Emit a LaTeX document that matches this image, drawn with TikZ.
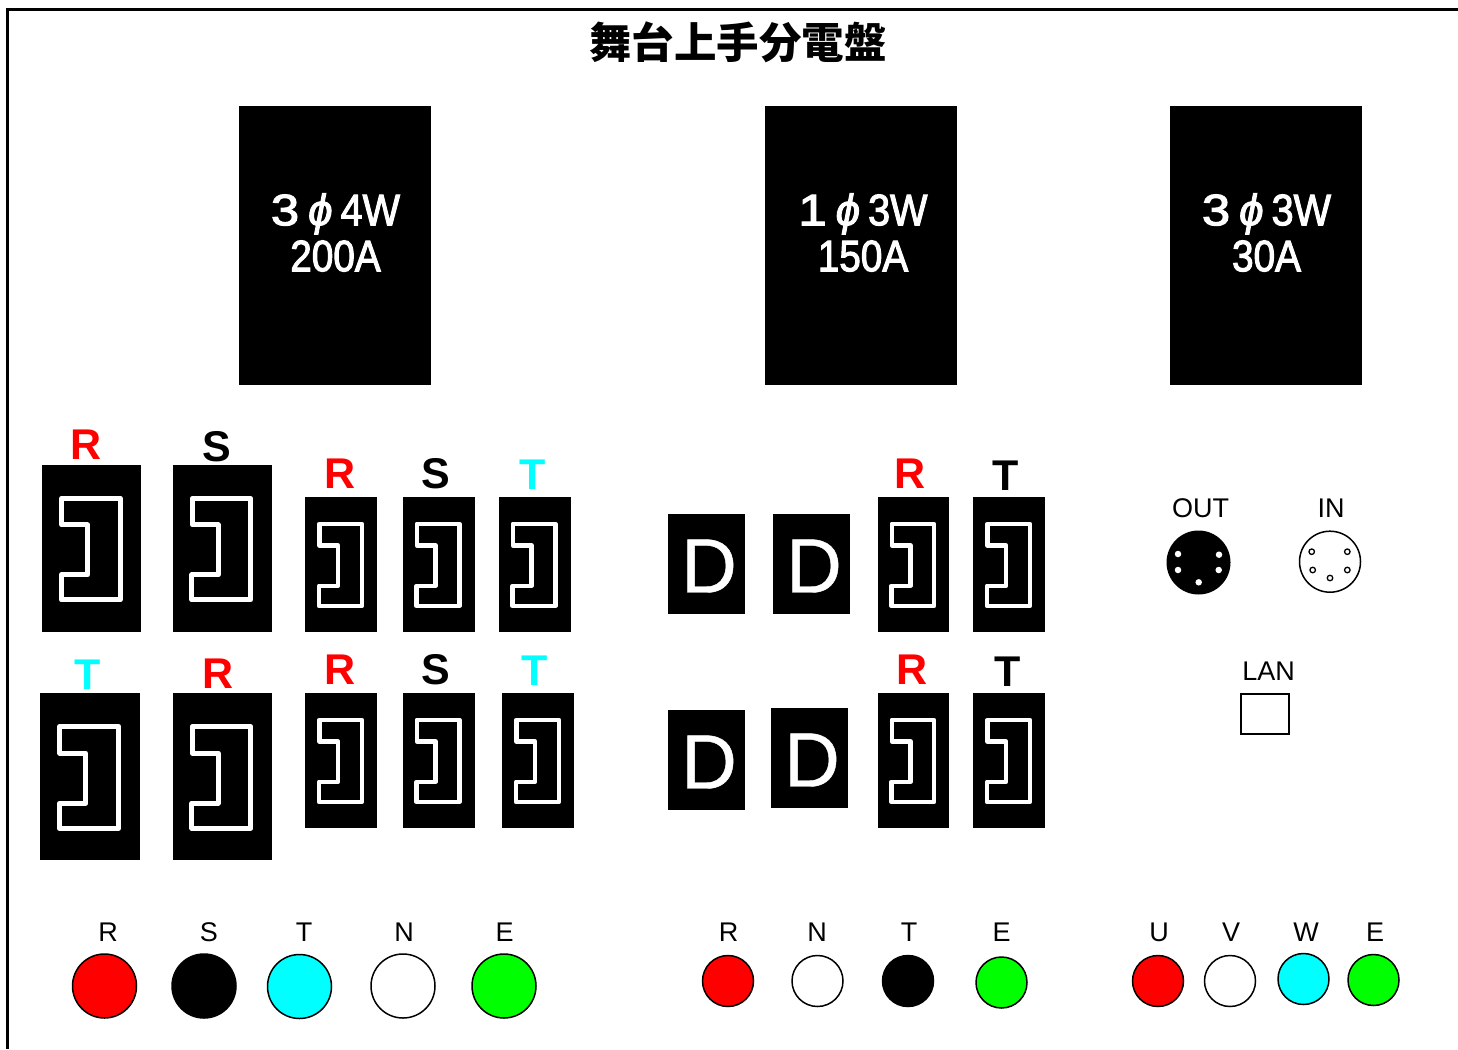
\documentclass[tikz,border=0pt]{standalone}
\usepackage{fontspec}
\setmainfont{Liberation Sans}
\newfontfamily\cjkfont{Noto Sans CJK JP}
\newfontfamily\ratfont{Liberation Sans}[FakeBold=2.5]
\newfontfamily\lightbold{Liberation Sans}[FakeBold=0.6]
\newfontfamily\medital{Liberation Sans Italic}[FakeBold=2]
\newcommand{\fsz}[1]{\fontsize{#1}{#1}\selectfont}
\newcommand{\ratline}[2]{\scalebox{1.15}[1]{#1}\hspace{9pt}{\medital ϕ}\hspace{8pt}\scalebox{.9}[1]{#2}}
\definecolor{cyanx}{RGB}{0,255,255}
\definecolor{greenx}{RGB}{0,255,0}
\definecolor{redx}{RGB}{255,0,0}
\tikzset{
  blockbox/.style={fill=black,inner sep=0pt,outer sep=0pt,draw=none},
  phase/.style={inner sep=0pt,font=\fsz{43}\bfseries},
  small/.style={inner sep=0pt,font=\fsz{27}},
  dletter/.style={inner sep=0pt,text=white,font=\fsz{77}\lightbold},
  rating/.style={inner sep=0pt,text=white,align=center,font=\fsz{44}\ratfont},
  lamp/.style={circle,draw=black,line width=1.5pt,inner sep=0pt,outer sep=0pt},
  pinw/.style={circle,fill=white,inner sep=0pt,minimum size=6.5pt},
  pino/.style={circle,draw=black,fill=white,line width=1.3pt,inner sep=0pt,minimum size=5.5pt},
  glyph/.style={draw=white,line join=round},
}
\newcommand{\blk}[5]{\node[blockbox,minimum width={(#4-#2)*1pt},minimum height={(#5-#3)*1pt}] (#1) at ({(#2+#4)/2},{(#3+#5)/2}) {};}
\newcommand{\outlet}[6]{%
  \blk{#1}{#2}{#3}{#4}{#5}
  \pgfmathsetmacro\gw{#4-#2}\pgfmathsetmacro\gh{#5-#3}
  \draw[glyph,line width=#6pt,shift={(#2,#3)},x=\gw pt,y=-\gh pt]
    (.2,.2)--(.79,.2)--(.79,.81)--(.195,.81)--(.195,.66)--(.46,.66)--(.46,.36)--(.2,.36)--cycle;}
\begin{document}
\begin{tikzpicture}[x=1pt,y=-1pt]
\useasboundingbox (0,0) rectangle (1458,1049);
% frame
\coordinate (frameA) at (1458,9.5);
\coordinate (frameB) at (7.5,9.5);
\coordinate (frameC) at (7.5,1049);
\draw[line width=3pt,line join=miter] (frameA)--(frameB)--(frameC);
% title
\node[inner sep=0pt,font=\cjkfont\bfseries\fsz{42.5}] (title) at (738,42) {舞台上手分電盤};
% main breakers
\blk{brkA}{238.5}{105.5}{430.5}{384.5}
\blk{brkB}{765}{105.5}{956.5}{384.5}
\blk{brkC}{1170}{105.5}{1361.5}{384.5}
\node[rating] (ratA) at (335.5,232.5) {\ratline{3}{4W}\\[2pt]\scalebox{.88}[1]{200A}};
\node[rating] (ratB) at (863,232.5) {\ratline{1}{3W}\\[2pt]\scalebox{.88}[1]{150A}};
\node[rating] (ratC) at (1266.5,232.5) {\ratline{3}{3W}\\[2pt]\scalebox{.88}[1]{30A}};
% left outlets row 1
\outlet{oa1}{42}{465}{141}{631.5}{5}
\outlet{oa2}{172.5}{465}{271.5}{631.5}{5}
\outlet{oa3}{305}{497}{377}{631.5}{4.5}
\outlet{oa4}{402.5}{497}{474.5}{631.5}{4.5}
\outlet{oa5}{498.5}{497}{570.5}{631.5}{4.5}
% left outlets row 2
\outlet{ob1}{40}{693}{139.5}{860}{5}
\outlet{ob2}{172.5}{693}{271.5}{860}{5}
\outlet{ob3}{305}{693}{377}{827.5}{4.5}
\outlet{ob4}{402.5}{693}{474.5}{827.5}{4.5}
\outlet{ob5}{502}{693}{574}{827.5}{4.5}
% middle
\blk{da1}{667.5}{513.5}{745}{613.5}
\blk{da2}{772.5}{513.5}{850}{613.5}
\outlet{oc1}{877.5}{497}{949}{631.5}{4.5}
\outlet{oc2}{973}{497}{1045}{631.5}{4.5}
\blk{db1}{667.5}{709.5}{745}{809.5}
\blk{db2}{770.5}{707.5}{848}{807.5}
\outlet{od1}{877.5}{693}{949}{827.5}{4.5}
\outlet{od2}{973}{693}{1045}{827.5}{4.5}
\node[dletter] (dta1) at (709,566) {D};
\node[dletter] (dta2) at (814,566) {D};
\node[dletter] (dtb1) at (709,762) {D};
\node[dletter] (dtb2) at (812,760) {D};
% phase labels
\node[phase,text=redx] (la1) at (86,445) {R};
\node[phase] (la2) at (217,447) {S};
\node[phase,text=redx] (la3) at (340,474) {R};
\node[phase] (la4) at (436,474) {S};
\node[phase,text=cyanx] (la5) at (533,475) {T};
\node[phase,text=redx] (lc1) at (910,474) {R};
\node[phase] (lc2) at (1006,476) {T};
\node[phase,text=cyanx] (lb1) at (88,675) {T};
\node[phase,text=redx] (lb2) at (218,674) {R};
\node[phase,text=redx] (lb3) at (340,670) {R};
\node[phase] (lb4) at (436,670) {S};
\node[phase,text=cyanx] (lb5) at (535,671) {T};
\node[phase,text=redx] (ld1) at (912,670) {R};
\node[phase] (ld2) at (1008,672) {T};
% connectors OUT / IN
\node[small] (tout) at (1200.5,508) {OUT};
\node[small] (tin) at (1331,508) {IN};
\node[circle,fill=black,inner sep=0pt,minimum size=64pt] (din1) at (1198.5,562.5) {};
\foreach \n/\px/\py in {a/1178/554,b/1219/554.7,c/1178/570,d/1218.7/570,e/1198.7/582.3}
  \node[pinw] (p1\n) at (\px,\py) {};
\node[lamp,minimum size=61pt,fill=white] (din2) at (1330,561.7) {};
\foreach \n/\px/\py in {a/1311.7/551.7,b/1347.3/551.7,c/1312.7/570,d/1347.3/570,e/1330/578}
  \node[pino] (p2\n) at (\px,\py) {};
% LAN
\node[small] (tlan) at (1268.5,671) {LAN};
\node[draw=black,line width=2pt,fill=white,inner sep=0pt,minimum width=48pt,minimum height=40pt] (lan) at (1265,714) {};
% bottom lamps left
\foreach \n/\cx/\cy/\col/\lx/\t in {r/104.5/986/redx/108/R,s/204/986/black/209/S,t/299.5/986.5/cyanx/304/T,n/403/986/white/404/N,e/504/986/greenx/504.5/E}{
  \node[lamp,fill=\col,minimum size=64pt] (lamp1\n) at (\cx,\cy) {};
  \node[small] (txt1\n) at (\lx,932) {\t};
}
% bottom lamps middle
\foreach \n/\cx/\cy/\col/\lx/\t in {r/728/981/redx/728.5/R,n/817.5/981/white/817/N,t/908/981/black/909/T,e/1001.5/982.5/greenx/1001.5/E}{
  \node[lamp,fill=\col,minimum size=51pt] (lamp2\n) at (\cx,\cy) {};
  \node[small] (txt2\n) at (\lx,932) {\t};
}
% bottom lamps right
\foreach \n/\cx/\cy/\col/\lx/\t in {u/1158/981/redx/1159/U,v/1230/981/white/1231/V,w/1303.5/979/cyanx/1306/W,e/1373.5/980/greenx/1375/E}{
  \node[lamp,fill=\col,minimum size=51pt] (lamp3\n) at (\cx,\cy) {};
  \node[small] (txt3\n) at (\lx,932) {\t};
}
\end{tikzpicture}
\end{document}
